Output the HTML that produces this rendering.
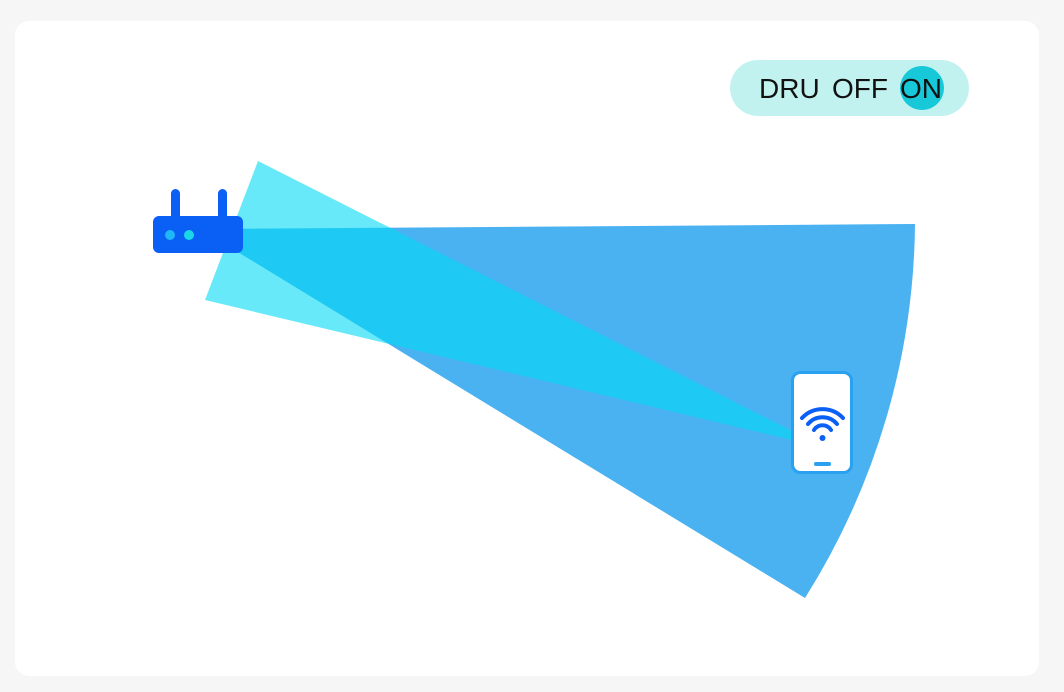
<!DOCTYPE html>
<html><head><style>
html,body{margin:0;padding:0;background:#f6f6f6;width:1064px;height:692px;overflow:hidden}
.card{position:absolute;left:15px;top:21px;width:1024px;height:655px;background:#fff;border-radius:14px}
</style></head><body>
<div class="card"></div>
<svg width="1064" height="692" style="position:absolute;left:0;top:0">
<path d="M200 229 L915 224 A712 712 0 0 1 805 598 Z" fill="#4ab2f1"/>
<polygon points="258,161 798,434 796,441 205,300" fill="rgba(2,218,245,0.6)"/>
<rect x="730" y="60" width="239" height="56" rx="28" fill="#c2f2f0"/>
<circle cx="922" cy="88" r="22" fill="#17c8d8"/>
<text x="759" y="98" font-family="Liberation Sans, sans-serif" font-size="28" fill="#111">DRU</text>
<text x="832" y="98" font-family="Liberation Sans, sans-serif" font-size="28" fill="#111">OFF</text>
<text x="900" y="98" font-family="Liberation Sans, sans-serif" font-size="28" fill="#111">ON</text>
<rect x="171" y="189" width="9" height="32" rx="4.5" fill="#0a5ff5"/>
<rect x="218" y="189" width="9" height="32" rx="4.5" fill="#0a5ff5"/>
<rect x="153" y="216" width="90" height="37" rx="6" fill="#0a5ff5"/>
<circle cx="170" cy="235" r="5" fill="#1fb7f5"/>
<circle cx="189" cy="235" r="5" fill="#19d6e8"/>
<rect x="792.5" y="372.5" width="59" height="100" rx="8" fill="#fff" stroke="#2aa0f0" stroke-width="3"/>
<g fill="none" stroke="#0a5ff5" stroke-width="4" stroke-linecap="round">
<path d="M802 418 A28 28 0 0 1 843 418"/>
<path d="M808 424 A19 19 0 0 1 837 424"/>
<path d="M814 430 A10 10 0 0 1 831 430"/>
</g>
<circle cx="822.5" cy="438" r="3" fill="#0a5ff5"/>
<rect x="814" y="462" width="17" height="4" rx="2" fill="#2aa0f0"/>
</svg>
</body></html>
